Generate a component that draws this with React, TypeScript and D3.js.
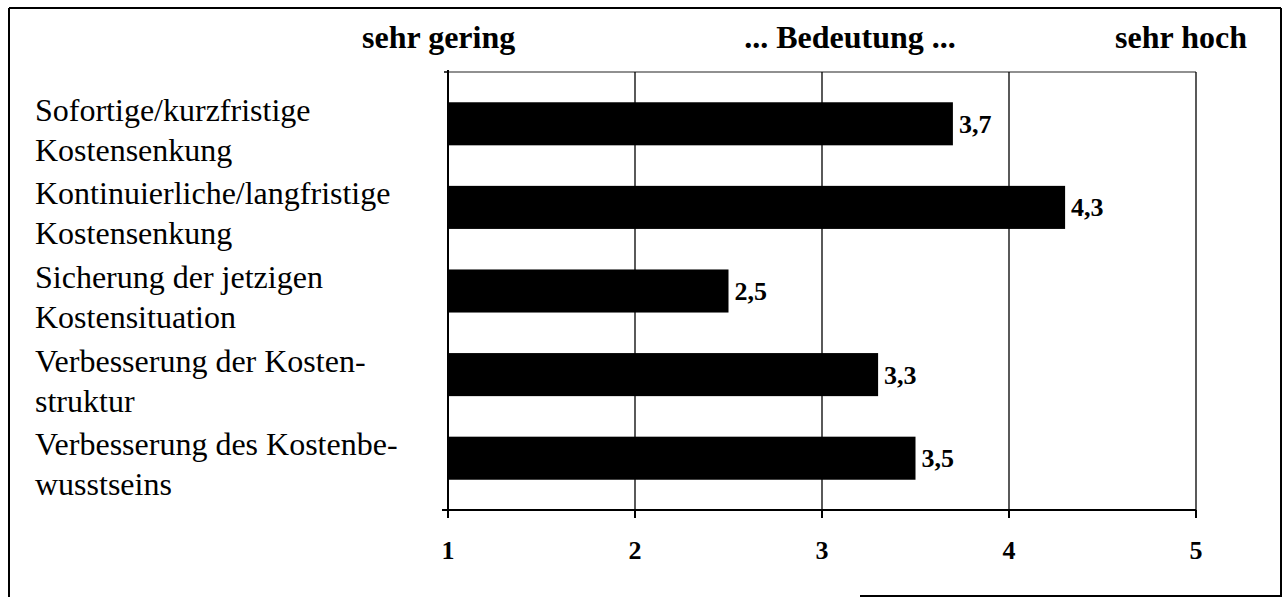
import * as d3 from 'd3';

// Survey items (two lines each, as in the original layout)
const categories: string[][] = [
  ['Sofortige/kurzfristige', 'Kostensenkung'],
  ['Kontinuierliche/langfristige', 'Kostensenkung'],
  ['Sicherung der jetzigen', 'Kostensituation'],
  ['Verbesserung der Kosten-', 'struktur'],
  ['Verbesserung des Kostenbe-', 'wusstseins'],
];
const values = [3.7, 4.3, 2.5, 3.3, 3.5];
const valueLabels = ['3,7', '4,3', '2,5', '3,3', '3,5'];
const tickValues = [1, 2, 3, 4, 5];
const headers = ['sehr gering', '... Bedeutung ...', 'sehr hoch'];

const W = 1288;
const H = 598;
const FONT = '"Liberation Serif", "Times New Roman", serif';

export default function App() {
  const plotTop = 72;
  const plotBottom = 510;

  const x = d3.scaleLinear().domain([1, 5]).range([448, 1196]);
  const y = d3
    .scaleBand<number>()
    .domain(d3.range(categories.length))
    .range([plotTop, plotBottom])
    .paddingInner(0.485)
    .paddingOuter(0.362);

  // header centres, placed relative to the value scale
  const headerX = [x(0.95), x(3.15), x(4.92)];

  return (
    <svg
      width={W}
      height={H}
      style={{ position: 'absolute', left: 0, top: 0, background: '#fff' }}
      fontFamily={FONT}
    >
      {/* outer frame */}
      <g stroke="#000" strokeWidth={2} fill="none">
        <line x1={9} y1={8} x2={1281} y2={8} />
        <line x1={9} y1={8} x2={9} y2={597} />
        <line x1={1281} y1={8} x2={1281} y2={597} />
        <line x1={860} y1={596} x2={1281} y2={596} />
      </g>

      {/* headers */}
      {headers.map((h, i) => (
        <text
          key={h}
          x={headerX[i]}
          y={48}
          textAnchor="middle"
          fontWeight="bold"
          fontSize={32}
          fill="#000"
        >
          {h}
        </text>
      ))}

      {/* top frame line of plot */}
      <line x1={x(1)} y1={plotTop} x2={x(5)} y2={plotTop} stroke="#222" strokeWidth={1.2} />

      {/* vertical grid lines */}
      {tickValues.slice(1).map(t => (
        <line
          key={'g' + t}
          x1={x(t)}
          x2={x(t)}
          y1={plotTop}
          y2={plotBottom}
          stroke="#000"
          strokeWidth={1.3}
        />
      ))}

      {/* bars */}
      {values.map((v, i) => (
        <rect
          key={'b' + i}
          x={x(1)}
          y={y(i)!}
          width={x(v) - x(1)}
          height={y.bandwidth()}
          fill="#000"
        />
      ))}

      {/* value labels */}
      {values.map((v, i) => (
        <text
          key={'v' + i}
          x={x(v) + 6}
          y={y(i)! + y.bandwidth() / 2 + 9}
          fontWeight="bold"
          fontSize={26}
          fill="#000"
        >
          {valueLabels[i]}
        </text>
      ))}

      {/* left axis */}
      <line x1={x(1)} x2={x(1)} y1={plotTop - 2} y2={plotBottom} stroke="#000" strokeWidth={2} />
      <line x1={x(1) - 4} x2={x(1)} y1={plotTop} y2={plotTop} stroke="#000" strokeWidth={1.5} />

      {/* bottom axis with ticks */}
      <line x1={x(1) - 6} x2={x(5)} y1={plotBottom} y2={plotBottom} stroke="#000" strokeWidth={2} />
      {tickValues.map(t => (
        <g key={'t' + t}>
          <line x1={x(t)} x2={x(t)} y1={plotBottom} y2={plotBottom + 8} stroke="#000" strokeWidth={2} />
          <text x={x(t)} y={559} textAnchor="middle" fontWeight="bold" fontSize={26} fill="#000">
            {t}
          </text>
        </g>
      ))}

      {/* category labels */}
      {categories.map((lines, i) => {
        const cy = y(i)! + y.bandwidth() / 2;
        return (
          <text key={'c' + i} x={35} y={cy - 3} fontSize={32} fill="#000">
            {lines.map((l, j) => (
              <tspan key={j} x={35} dy={j === 0 ? 0 : 40}>
                {l}
              </tspan>
            ))}
          </text>
        );
      })}
    </svg>
  );
}
